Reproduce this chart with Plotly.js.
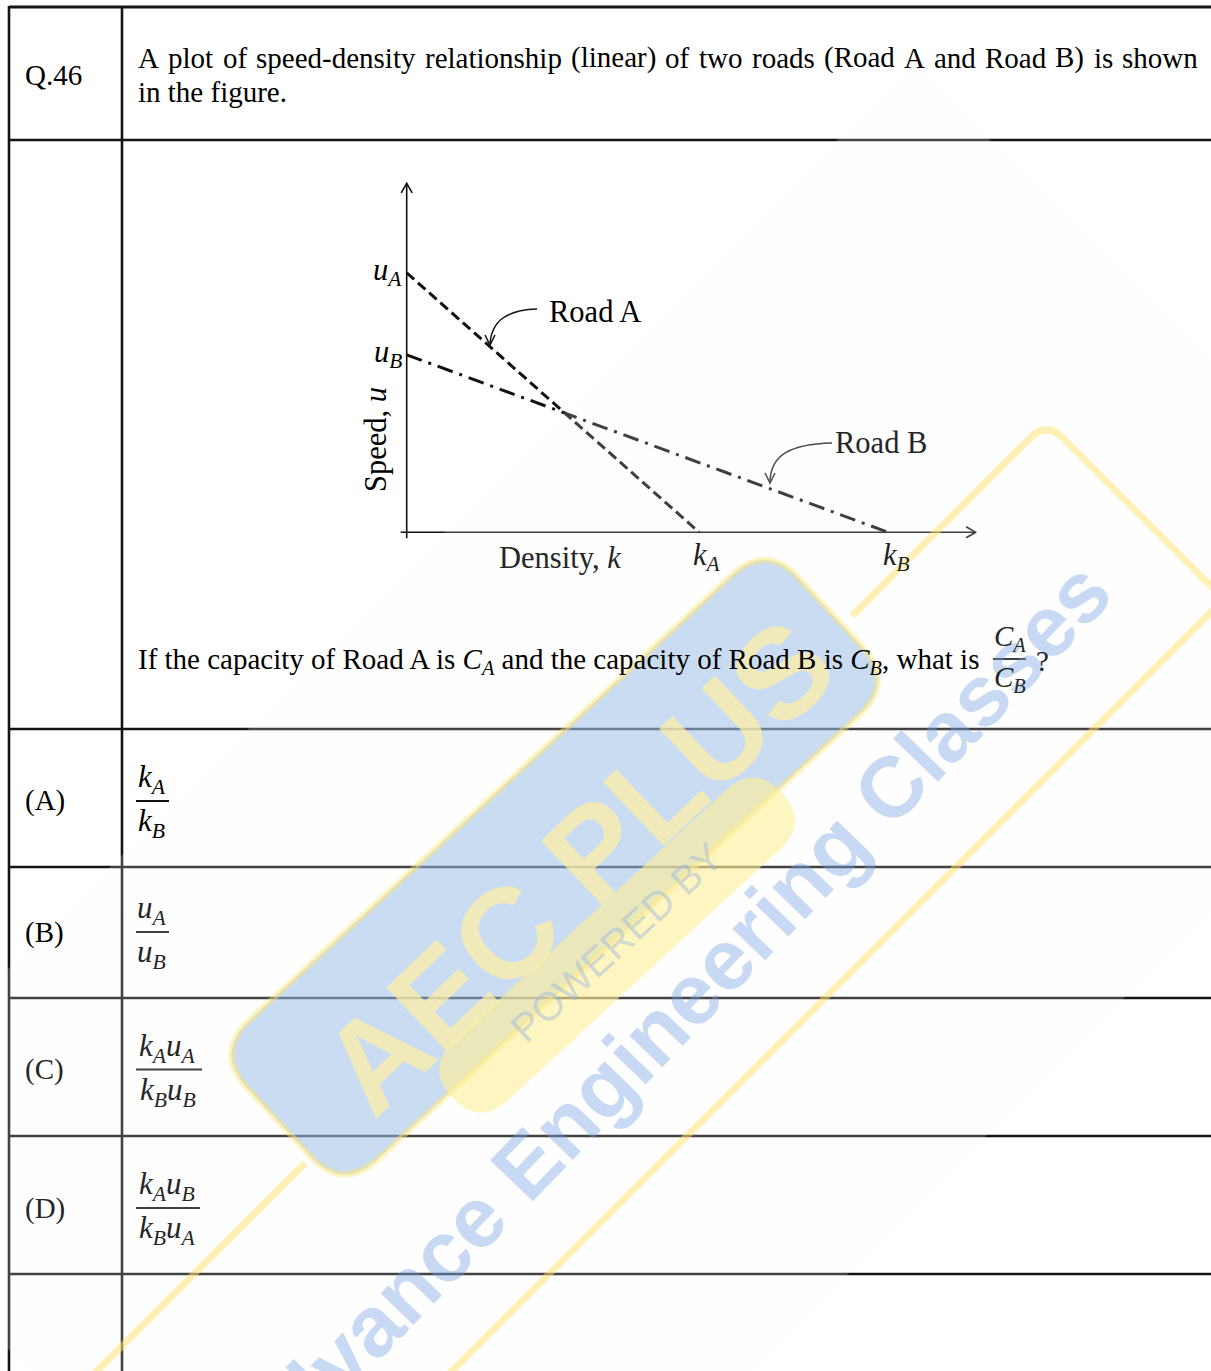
<!DOCTYPE html>
<html><head><meta charset="utf-8">
<script src="https://cdn.plot.ly/plotly-3.0.1.min.js"></script>
<style>html,body{margin:0;padding:0;background:#fff;overflow:hidden}#chart{width:1211px;height:1371px}</style>
</head><body><div id="chart"></div>
<script>
// ---------------- data ----------------
const roads = ['Road A', 'Road B'];
const freeFlowSpeed = [5.19, 3.55];      // u_A, u_B  (axis units)
const jamDensity = [5.85, 9.63];         // k_A, k_B
const speedLabels = ['<i>u</i><sub><i>A</i></sub>', '<i>u</i><sub><i>B</i></sub>'];
const densityLabels = ['<i>k</i><sub><i>A</i></sub>', '<i>k</i><sub><i>B</i></sub>'];
const questionNo = 'Q.46';
const questionLine1 = 'A plot of speed-density relationship (linear) of two roads (Road A and Road B) is shown';
const questionLine2 = 'in the figure.';
const questionAsk = 'If the capacity of Road A is <i>C<sub>A</sub></i> and the capacity of Road B is <i>C<sub>B</sub></i>, what is';
const askNum = '<i>C<sub>A</sub></i>';
const askDen = '<i>C<sub>B</sub></i>';
const optionLetters = ['(A)', '(B)', '(C)', '(D)'];
const optionNum = ['<i>k<sub>A</sub></i>', '<i>u<sub>A</sub></i>', '<i>k<sub>A</sub>u<sub>A</sub></i>', '<i>k<sub>A</sub>u<sub>B</sub></i>'];
const optionDen = ['<i>k<sub>B</sub></i>', '<i>u<sub>B</sub></i>', '<i>k<sub>B</sub>u<sub>B</sub></i>', '<i>k<sub>B</sub>u<sub>A</sub></i>'];
const watermarkTitle = 'AEC PLUS';
const watermarkSub = 'POWERED BY';
const watermarkName = 'Advance Engineering Classes';

// ---------------- geometry helpers ----------------
const W = 1211, H = 1371;
const px = x => x / W, py = y => 1 - y / H;
const SERIF = '"Liberation Serif", "Times New Roman", serif';
const SANS = '"Liberation Sans", Arial, sans-serif';
const TH = -42.7 * Math.PI / 180;
const Dv = [Math.cos(TH), Math.sin(TH)], Nv = [-Math.sin(TH), Math.cos(TH)];
const fr = (u, v) => [u * Dv[0] + v * Nv[0], u * Dv[1] + v * Nv[1]];
const pt = p => px(p[0]).toFixed(5) + ',' + py(p[1]).toFixed(5);
function rrPath(d0, d1, n0, n1, r) {
  const P = (u, v) => pt(fr(u, v));
  return `M${P(d0 + r, n0)}L${P(d1 - r, n0)}Q${P(d1, n0)} ${P(d1, n0 + r)}L${P(d1, n1 - r)}Q${P(d1, n1)} ${P(d1 - r, n1)}L${P(d0 + r, n1)}Q${P(d0, n1)} ${P(d0, n1 - r)}L${P(d0, n0 + r)}Q${P(d0, n0)} ${P(d0 + r, n0)}Z`;
}
const poly = pts => 'M' + pts.map(pt).join('L') + 'Z';
const open = pts => 'M' + pts.map(pt).join('L');
const inOverlay = (x, y) => { const s = x + y, d = y - x; return s > 977 && s < 2122 && d > -850 && d < 1341; };
const tcol = (x, y) => inOverlay(x, y) ? '#262626' : '#000';

function A(x, y, text, o = {}) {
  const base = {xref: 'paper', yref: 'paper', x: px(x), y: py(y), text: text, showarrow: false,
    xanchor: 'left', yanchor: 'middle', borderpad: 0,
    font: {family: SERIF, size: 29, color: tcol(x, y)}};
  if (o.font) { o.font = Object.assign({}, base.font, o.font); }
  return Object.assign(base, o);
}

// ---------------- shapes ----------------
const shapes = [];
const lineC = '#141414';
const hl = (y, w) => shapes.push({type: 'line', xref: 'paper', yref: 'paper', x0: px(9), x1: px(1211), y0: py(y), y1: py(y), line: {color: lineC, width: w}});
const vl = (x, w) => shapes.push({type: 'line', xref: 'paper', yref: 'paper', x0: px(x), x1: px(x), y0: py(6), y1: py(1371), line: {color: lineC, width: w}});
hl(7, 3); hl(140, 2.6); hl(729, 2.4); hl(867, 2.4); hl(998, 2.4); hl(1136, 2.4); hl(1274, 2.4);
vl(9, 2.6); vl(122, 2.6);

// plot axes (data coordinates)
const axC = '#111';
shapes.push({type: 'line', xref: 'x', yref: 'y', x0: -0.12, x1: 11.38, y0: 0, y1: 0, line: {color: axC, width: 1.6}});
shapes.push({type: 'line', xref: 'x', yref: 'y', x0: 0, x1: 0, y0: -0.12, y1: 6.98, line: {color: axC, width: 1.6}});
shapes.push({type: 'path', xref: 'x', yref: 'y', path: 'M11.19,0.11L11.38,0L11.19,-0.11', line: {color: axC, width: 1.6}});
shapes.push({type: 'path', xref: 'x', yref: 'y', path: 'M-0.11,6.79L0,6.98L0.11,6.79', line: {color: axC, width: 1.6}});

// curved pointers
const cp = (p) => pt(p);
shapes.push({type: 'path', xref: 'paper', yref: 'paper', path: `M${cp([537,309])}C${cp([508,310])} ${cp([491,320])} ${cp([490,345])}`, line: {color: '#111', width: 1.5}});
shapes.push({type: 'path', xref: 'paper', yref: 'paper', path: `M${cp([485,335])}L${cp([490,345])}L${cp([495,335])}`, line: {color: '#111', width: 1.5}});
shapes.push({type: 'path', xref: 'paper', yref: 'paper', path: `M${cp([832,443])}C${cp([790,444])} ${cp([770,455])} ${cp([770,483])}`, line: {color: '#222', width: 1.5}});
shapes.push({type: 'path', xref: 'paper', yref: 'paper', path: `M${cp([765,473])}L${cp([770,483])}L${cp([775,473])}`, line: {color: '#222', width: 1.5}});

// fraction bars
const barC = '#111';
const fbar = (x0, x1, y, w) => shapes.push({type: 'line', xref: 'paper', yref: 'paper', x0: px(x0), x1: px(x1), y0: py(y), y1: py(y), line: {color: barC, width: w}});
fbar(993, 1026, 659, 2);
const optRowY = [801, 932, 1069.5, 1208];
const optBarW = [33, 33, 66, 64];
optRowY.forEach((y, i) => fbar(136, 136 + optBarW[i], y, 1.8));

// watermark: faint overlay box, 45-degree outline (hidden under badge), blue badge, pill
const yel = 'rgba(255,228,110,0.5)';
shapes.push({type: 'path', xref: 'paper', yref: 'paper', path: poly([[913.5, 63.5], [1486, 636], [390.5, 1731.5], [-182, 1159]]), fillcolor: 'rgba(250,250,250,0.2)', line: {width: 0}});
shapes.push({type: 'path', xref: 'paper', yref: 'paper', path: open([[-150, 1618], [305, 1163]]), line: {color: yel, width: 7}});
shapes.push({type: 'path', xref: 'paper', yref: 'paper',
  path: `M${pt([852, 616])}L${pt([1030, 438])}Q${pt([1046.5, 421.5])} ${pt([1063, 438])}L${pt([1224, 599])}L${pt([1300, 675])}`, line: {color: yel, width: 7}});
shapes.push({type: 'path', xref: 'paper', yref: 'paper', path: open([[1300, 523], [250, 1573]]), line: {color: yel, width: 7}});
shapes.push({type: 'path', xref: 'paper', yref: 'paper', path: rrPath(-556, 195, 919, 1108, 48), fillcolor: 'rgba(150,185,228,0.5)', line: {color: 'rgba(255,228,110,0.45)', width: 6}});
shapes.push({type: 'path', xref: 'paper', yref: 'paper', path: rrPath(-412, 37, 1073, 1153, 40), fillcolor: 'rgba(255,238,150,0.6)', line: {width: 0}});

// ---------------- annotations ----------------
const ann = [];
// watermark text
ann.push(A(577, 866, watermarkTitle, {xanchor: 'center', textangle: -43.5, font: {family: SANS, size: 128, weight: 'bold', color: 'rgba(255,240,165,0.72)'}}));
ann.push(A(616, 943, watermarkSub, {xanchor: 'center', textangle: -42.7, font: {family: SANS, size: 40, color: 'rgba(150,182,228,0.45)'}}));
ann.push(A(668, 1018, watermarkName, {xanchor: 'center', textangle: -46, font: {family: SANS, size: 86, weight: 'bold', color: 'rgba(120,165,228,0.4)'}}));

// header
ann.push(A(24, 75, questionNo));
// justified first line
(function () {
  const ctx = document.createElement('canvas').getContext('2d');
  ctx.font = '29px "Liberation Serif"';
  const words = questionLine1.split(' ');
  const ws = words.map(w => ctx.measureText(w).width);
  const x0 = 137, x1 = 1197;
  const gap = (x1 - x0 - ws.reduce((a, b) => a + b, 0)) / (words.length - 1);
  let x = x0;
  words.forEach((w, i) => { ann.push(A(x, 58, w)); x += ws[i] + gap; });
})();
ann.push(A(137, 92, questionLine2));

// question
ann.push(A(137, 661, questionAsk));
ann.push(A(1009.5, 657, askNum, {xanchor: 'center', yanchor: 'bottom', font: {size: 29}}));
ann.push(A(1009.5, 660, askDen, {xanchor: 'center', yanchor: 'top', font: {size: 29}}));
ann.push(A(1035, 661, '?'));

// options
optRowY.forEach((y, i) => {
  ann.push(A(24, y, optionLetters[i]));
  const cx = 135 + optBarW[i] / 2;
  ann.push(A(cx, y - 1, optionNum[i], {xanchor: 'center', yanchor: 'bottom', font: {size: 31}}));
  ann.push(A(cx, y + 1, optionDen[i], {xanchor: 'center', yanchor: 'top', font: {size: 31}}));
});

// plot labels
const FIG = 30.5;
roads.forEach((r, i) => {
  ann.push({xref: 'x', yref: 'y', x: 0, y: freeFlowSpeed[i], text: speedLabels[i], showarrow: false,
    xanchor: 'right', yanchor: 'middle', xshift: -3, yshift: 1, font: {family: SERIF, size: FIG, color: '#000'}});
  ann.push({xref: 'x', yref: 'y', x: jamDensity[i], y: 0, text: densityLabels[i], showarrow: false,
    xanchor: 'center', yanchor: 'top', xshift: 8, yshift: -4, font: {family: SERIF, size: FIG, color: '#222'}});
});
ann.push(A(548, 312, roads[0], {font: {size: FIG}}));
ann.push(A(834, 443, roads[1], {font: {size: FIG}}));
ann.push(A(376, 440, 'Speed, <i>u</i>', {xanchor: 'center', textangle: -90, font: {size: FIG}}));
ann.push(A(560, 558, 'Density, <i>k</i>', {xanchor: 'center', font: {size: FIG}}));

// ---------------- traces ----------------
const roadDash = ['10px,5px', '16px,7px,3px,7px'];
const traces = roads.map((r, i) => ({
  type: 'scatter', mode: 'lines', name: r,
  x: [0, jamDensity[i]], y: [freeFlowSpeed[i], 0],
  line: {color: '#111', width: 3, dash: roadDash[i]}, hoverinfo: 'skip'
}));

// axis ranges include a small margin past the origin (50 px per unit)
const layout = {
  width: W, height: H, margin: {l: 0, r: 0, t: 0, b: 0},
  paper_bgcolor: '#fff', plot_bgcolor: 'rgba(0,0,0,0)', showlegend: false,
  xaxis: {domain: [391.7 / W, 976.7 / W], range: [-0.3, 11.4], visible: false, fixedrange: true},
  yaxis: {domain: [py(547.3), py(177.3)], range: [-0.3, 7.1], visible: false, fixedrange: true},
  shapes: shapes, annotations: ann
};
Plotly.newPlot('chart', traces, layout, {staticPlot: true});
</script></body></html>
